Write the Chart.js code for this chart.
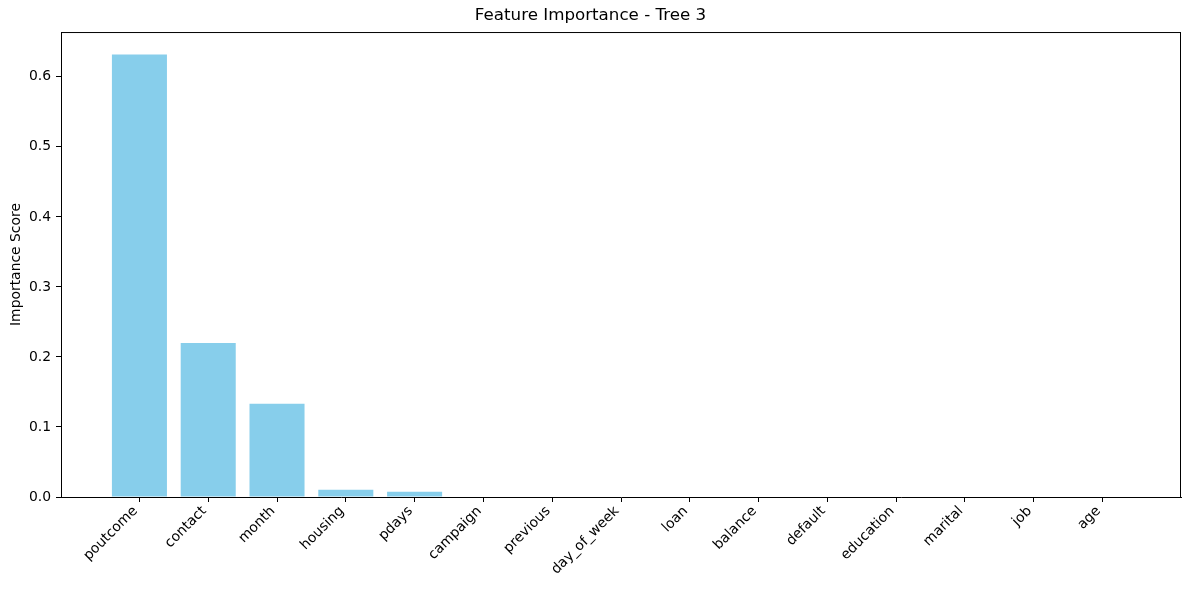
<!DOCTYPE html>
<html>
<head>
<meta charset="utf-8">
<script src="https://cdn.jsdelivr.net/npm/chart.js@4.4.1/dist/chart.umd.min.js"></script>
<style>
  html, body { margin: 0; padding: 0; background: #fff; }
  #wrap { width: 1189px; height: 590px; position: relative; }
</style>
</head>
<body>
<div id="wrap"><canvas id="importanceChart"></canvas></div>
<script>
// Feature names, in the order drawn
const features = ["poutcome", "contact", "month", "housing", "pdays", "campaign", "previous",
  "day_of_week", "loan", "balance", "default", "education", "marital", "job", "age"];
// Importance score of each feature
const scores = [0.632, 0.220, 0.133, 0.0105, 0.0076, 0, 0, 0, 0, 0, 0, 0, 0, 0, 0];
// Y tick values
const yTicks = [0.0, 0.1, 0.2, 0.3, 0.4, 0.5, 0.6];

const font = "'DejaVu Sans', sans-serif";

// draw top and right spines like matplotlib
const frame = {
  id: "frame",
  afterDraw(chart) {
    const { ctx, chartArea: a } = chart;
    ctx.save();
    ctx.strokeStyle = "#000";
    ctx.lineWidth = 1;
    ctx.beginPath();
    ctx.moveTo(a.left, a.top + 0.5);
    ctx.lineTo(a.right, a.top + 0.5);
    ctx.moveTo(a.right - 0.5, a.top);
    ctx.lineTo(a.right - 0.5, a.bottom);
    ctx.stroke();
    ctx.restore();
  }
};

new Chart(document.getElementById("importanceChart"), {
  type: "bar",
  data: {
    datasets: [
      {
        data: scores.map((s, i) => ({ x: i, y: s })),
        backgroundColor: "#87CEEB",
        borderWidth: 0,
        barPercentage: 0.8,
        categoryPercentage: 1.0
      }
    ]
  },
  options: {
    responsive: true,
    maintainAspectRatio: false,
    animation: false,
    layout: { padding: { left: 0, right: 8, top: 0, bottom: 0 } },
    plugins: {
      legend: { display: false },
      tooltip: { enabled: false },
      title: {
        display: true,
        text: "Feature Importance - Tree 3",
        color: "#000",
        font: { family: font, size: 16.7, weight: "normal", lineHeight: 1.2 },
        padding: { top: 6, bottom: 6 }
      }
    },
    scales: {
      x: {
        type: "linear",
        min: -1.14,
        max: 15.14,
        offset: false,
        afterBuildTicks(scale) {
          scale.ticks = features.map((_, i) => ({ value: i }));
        },
        afterFit(scale) { scale.height = 93; },
        grid: { offset: false, drawOnChartArea: false, drawTicks: true, tickLength: 5, tickColor: "#000" },
        border: { display: true, color: "#000", width: 1 },
        ticks: {
          autoSkip: false,
          minRotation: 45,
          maxRotation: 45,
          padding: 1,
          labelOffset: -4,
          color: "#000",
          font: { family: font, size: 13.9 },
          callback: (v) => features[v]
        }
      },
      y: {
        min: 0,
        max: 0.664,
        afterBuildTicks(scale) {
          scale.ticks = yTicks.map(v => ({ value: v }));
        },
        afterFit(scale) { scale.width = 61; },
        grid: { drawOnChartArea: false, drawTicks: true, tickLength: 5, tickColor: "#000" },
        border: { display: true, color: "#000", width: 1 },
        ticks: {
          padding: 5,
          color: "#000",
          font: { family: font, size: 13.9 },
          callback: (v) => v.toFixed(1)
        },
        title: {
          display: true,
          text: "Importance Score",
          color: "#000",
          font: { family: font, size: 13.9, lineHeight: 1.2 },
          padding: { top: 8, bottom: 0 }
        }
      }
    }
  },
  plugins: [frame]
});
</script>
</body>
</html>
